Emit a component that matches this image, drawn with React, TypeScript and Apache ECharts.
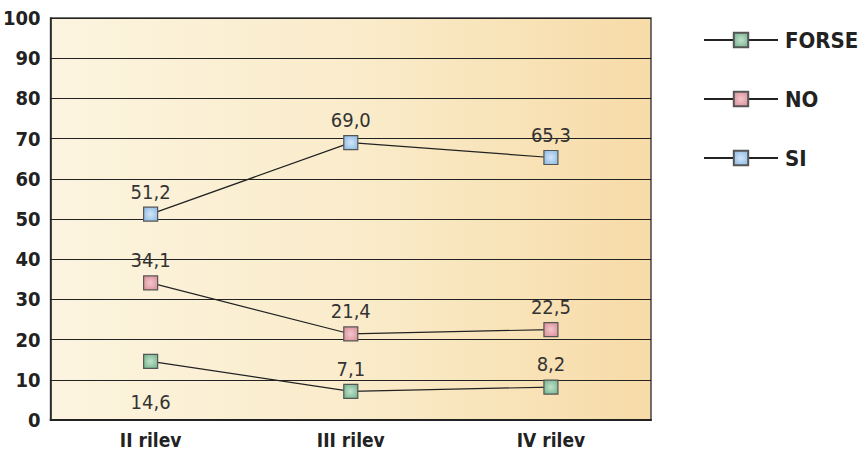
import React, { useEffect, useRef } from "react";
import * as echarts from "echarts";

const categories = ["II rilev", "III rilev", "IV rilev"];
const forse = [14.6, 7.1, 8.2];
const no = [34.1, 21.4, 22.5];
const si = [51.2, 69.0, 65.3];
const yTicks = [0, 10, 20, 30, 40, 50, 60, 70, 80, 90, 100];

const fmt = (v: number) => v.toFixed(1).replace(".", ",");
const FONT = "DejaVu Sans Condensed";

function sq(c1: string, c2: string) {
  return new echarts.graphic.RadialGradient(0.5, 0.5, 0.7, [
    { offset: 0, color: c1 },
    { offset: 1, color: c2 },
  ]);
}

export default function App() {
  const ref = useRef<HTMLDivElement>(null);
  useEffect(() => {
    if (!ref.current) return;
    const chart = echarts.init(ref.current, null, { renderer: "svg" });
    const labelBase = {
      show: true,
      formatter: (p: any) => fmt(p.value),
      fontFamily: FONT,
      fontSize: 20,
      color: "#333",
      distance: 5,
    };
    const mk = (name: string, data: number[], c1: string, c2: string, belowIdx: number[]) => ({
      name,
      type: "line",
      data: data.map((v, i) => ({
        value: v,
        label: belowIdx.includes(i) ? { position: "bottom", distance: 23 } : { position: "top" },
      })),
      symbol: "rect",
      symbolSize: 14,
      lineStyle: { color: "#222", width: 1.2 },
      itemStyle: { color: sq(c1, c2), borderColor: "#555", borderWidth: 1.2 },
      label: labelBase,
      z: 3,
    });
    chart.setOption({
      animation: false,
      grid: {
        left: 50,
        right: 211,
        top: 18,
        bottom: 34,
        show: true,
        borderColor: "#444",
        borderWidth: 1.5,
        backgroundColor: new echarts.graphic.LinearGradient(0, 0, 1, 0, [
          { offset: 0, color: "#fcf4df" },
          { offset: 0.5, color: "#faeccb" },
          { offset: 1, color: "#f7dba8" },
        ]),
      },
      legend: {
        orient: "vertical",
        left: 698,
        top: 24,
        itemWidth: 74,
        itemHeight: 18,
        itemGap: 37,
        textStyle: {
          fontFamily: FONT,
          fontWeight: "bold",
          fontSize: 22,
          color: "#222",
          padding: [0, 0, 0, 2],
        },
        data: ["FORSE", "NO", "SI"],
      },
      xAxis: {
        type: "category",
        data: categories,
        boundaryGap: true,
        axisLine: { lineStyle: { color: "#222", width: 2 } },
        axisTick: { inside: true, length: 10, lineStyle: { color: "#222", width: 1.5 } },
        axisLabel: {
          fontFamily: FONT,
          fontWeight: "bold",
          fontSize: 19,
          color: "#222",
          margin: 10,
        },
      },
      yAxis: {
        type: "value",
        min: 0,
        max: 100,
        interval: 10,
        axisLine: { show: true, lineStyle: { color: "#222", width: 1.5 } },
        axisTick: { show: false },
        splitLine: { lineStyle: { color: "#222", width: 1.2 } },
        axisLabel: {
          fontFamily: FONT,
          fontWeight: "bold",
          fontSize: 20,
          color: "#222",
          margin: 10,
          formatter: (v: number) => (yTicks.includes(v) ? String(v) : ""),
        },
      },
      series: [
        mk("FORSE", forse, "#c0e2cb", "#6fb08a", [0]),
        mk("NO", no, "#f3c6cc", "#d98a95", []),
        mk("SI", si, "#d2e6f8", "#86b5e3", []),
      ],
    });
    return () => chart.dispose();
  }, []);
  return (
    <div
      ref={ref}
      style={{ position: "absolute", left: 0, top: 0, width: 862, height: 454 }}
    />
  );
}
